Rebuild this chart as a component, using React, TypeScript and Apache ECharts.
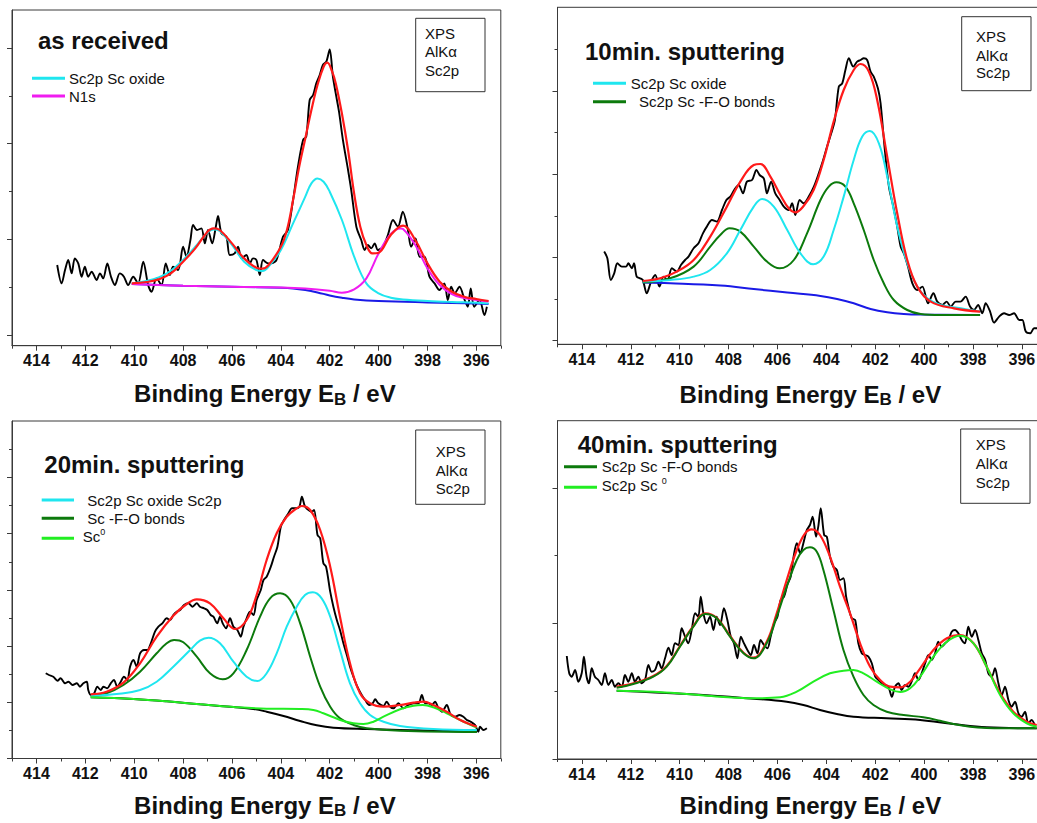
import React, { useEffect, useRef } from 'react';
import * as echarts from 'echarts';

const FONT = '"Liberation Sans", Arial, Helvetica, sans-serif';

// x axis (binding energy, eV)
const energyMajorTicks = [396, 398, 400, 402, 404, 406, 408, 410, 412, 414];
const energyMinorTicks = [395, 397, 399, 401, 403, 405, 407, 409, 411, 413, 415];

// y tick positions (arbitrary intensity units, no labels)
const asReceivedYMajor = [10.4, 106.2, 202, 297.8];
const asReceivedYMinor = [58.3, 154.1, 249.9];
const sp10YMajor = [3.6, 86.9, 170.2, 253.5];
const sp10YMinor = [45.25, 128.55, 211.85, 295.15];
const sp20YMajor = [0, 56.2, 112.4, 168.6, 224.8, 281];
const sp20YMinor = [28.1, 84.3, 140.5, 196.7, 252.9, 309.1];
const sp40YMajor = [0, 135.6, 271.2];
const sp40YMinor = [67.8, 203.4];

// ---------- as received ----------
const asReceivedRaw = [
  [413.15, 80.7], [412.97, 62.3], [412.83, 75.7], [412.7, 85.7], [412.56, 72.3], [412.43, 87.3], [412.29, 82.3],
  [412.15, 69], [412.02, 79], [411.88, 69], [411.74, 74], [411.54, 65.7], [411.4, 72.3], [411.27, 67.3],
  [411.1, 82.3], [410.95, 69], [410.79, 60.7], [410.59, 72.3], [410.42, 69], [410.25, 60.7], [410.04, 69],
  [409.84, 62.3], [409.63, 84], [409.43, 60.7], [409.29, 54], [409.09, 67.3], [408.88, 60.7], [408.71, 82.3],
  [408.54, 70.7], [408.41, 79], [408.2, 75.7], [408.0, 99], [407.86, 89], [407.7, 105.7], [407.59, 120.7],
  [407.43, 115.7], [407.25, 117.3], [407.11, 102.3], [406.98, 115.7], [406.81, 102.3], [406.66, 119],
  [406.57, 129.7], [406.43, 112.3], [406.23, 109], [406.09, 90.7], [405.89, 92.3], [405.75, 99], [405.61, 87.3],
  [405.41, 90.7], [405.27, 82.3], [405.14, 87.3], [405.0, 85.7], [404.86, 70.7], [404.73, 85.7], [404.52, 82.3],
  [404.39, 82.3], [404.18, 85.7], [403.91, 109], [403.71, 115.7], [403.5, 145.7], [403.3, 179], [403.09, 205.7],
  [402.96, 209], [402.82, 245.7], [402.68, 250.7], [402.55, 262.3], [402.41, 270.7], [402.28, 280.7],
  [402.14, 284], [402.0, 296.3], [401.87, 269], [401.73, 249], [401.62, 234], [401.46, 205.7], [401.25, 175.7],
  [401.12, 155.7], [400.91, 119], [400.71, 105.7], [400.57, 95.7], [400.44, 100.7], [400.3, 97.3],
  [400.16, 102.3], [400.03, 95.7], [399.82, 99], [399.62, 110.7], [399.41, 125.7], [399.21, 119], [399.01, 134],
  [398.8, 115.7], [398.67, 99], [398.49, 107.3], [398.32, 89], [398.12, 89], [397.92, 69], [397.71, 62.3],
  [397.51, 55.7], [397.31, 62.3], [397.17, 45.7], [397.03, 59], [396.89, 52.3], [396.69, 59], [396.48, 45.7],
  [396.35, 39], [396.23, 57.3], [396.09, 39], [395.87, 45.7], [395.67, 30.7], [395.57, 39],
];
const asReceivedFit = [
  [410.1, 62.3], [409.5, 63.7], [409, 66.3], [408.5, 72.3], [408, 84], [407.5, 97.3], [407, 114], [406.75, 117.3],
  [406.5, 115.7], [406, 102.3], [405.5, 87.3], [405, 78], [404.75, 77], [404.5, 80.7], [404, 99], [403.75, 115.7],
  [403.5, 145.7], [403.25, 179], [403, 207.3], [402.75, 235.7], [402.5, 260.7], [402.25, 279], [402.1, 283],
  [401.9, 274], [401.75, 262], [401.5, 232], [401.25, 195.7], [401, 152], [400.75, 119], [400.5, 100.7],
  [400.25, 92.3], [400, 93], [399.5, 110.7], [399, 120], [398.5, 105.7], [398, 82.3], [397.5, 64], [397, 54],
  [396.5, 49], [396, 46.7], [395.5, 44.7],
];
const asReceivedOxide = [
  [410.1, 62.3], [409.5, 64.7], [409, 68.3], [408.5, 75], [408, 85.7], [407.5, 99], [407, 113.3], [406.75, 116.3],
  [406.5, 114.7], [406, 100.7], [405.5, 84], [405, 75.7], [404.75, 74.7], [404.5, 79], [404, 95.7], [403.5, 122.3],
  [403, 149], [402.75, 162.3], [402.5, 167.3], [402.25, 164], [402, 154], [401.5, 125.7], [401, 89], [400.5, 62.3],
  [400, 52.3], [399.5, 48], [399, 46.3], [398, 44.7], [397, 43.7], [396, 43], [395.5, 42.3],
];
const asReceivedN1s = [
  [410.1, 61.7], [409, 60.7], [408, 60], [406, 59], [404, 58.3], [403, 57.3], [402, 55], [401.5, 53], [401, 56.3],
  [400.5, 67.3], [400, 92.3], [399.5, 111.7], [399.1, 117.3], [399, 116.7], [398.5, 100.7], [398, 77.3],
  [397.5, 60.7], [397, 51.7], [396.5, 47.7], [396, 45.7], [395.5, 44.3],
];
const asReceivedBackground = [
  [410.1, 61.7], [408, 60], [406, 59], [404, 58], [403.5, 57.3], [403, 55.7], [402.5, 53.3], [402, 50.3],
  [401.5, 48], [401, 46.3], [400, 44.7], [398, 43.3], [396, 42.3], [395.5, 41.7],
];

// ---------- 10 min sputtering ----------
const sp10Raw = [
  [413.09, 92.7], [412.96, 86], [412.82, 64.3], [412.68, 71], [412.55, 81], [412.37, 77.7], [412.19, 77.7],
  [412.1, 81], [411.96, 76], [411.87, 81], [411.76, 67.7], [411.62, 66], [411.51, 64.3], [411.35, 51],
  [411.17, 62.7], [411.0, 69.3], [410.83, 57.7], [410.66, 67.7], [410.5, 64.3], [410.32, 76], [410.12, 72.7],
  [409.95, 79.3], [409.78, 84.3], [409.64, 87.7], [409.43, 96], [409.23, 101], [409.05, 111], [408.89, 117.7],
  [408.68, 124.3], [408.48, 122.7], [408.27, 134.3], [408.09, 144.3], [407.93, 147.7], [407.77, 154.3],
  [407.59, 159.3], [407.41, 151], [407.25, 162.7], [407.04, 164.3], [406.86, 174.3], [406.73, 169.3],
  [406.56, 166], [406.43, 151], [406.26, 162.7], [406.09, 151], [405.91, 144.3], [405.74, 137.7],
  [405.54, 134.3], [405.4, 141], [405.27, 129.3], [405.09, 144.3], [404.93, 141], [404.72, 147.7],
  [404.51, 157.7], [404.31, 171], [404.13, 184.3], [403.97, 197.7], [403.8, 211], [403.65, 224.3],
  [403.49, 257.7], [403.35, 261], [403.22, 274.3], [403.08, 286], [402.9, 277.7], [402.74, 282.7],
  [402.6, 284.3], [402.47, 286], [402.33, 284.3], [402.19, 272.7], [402.06, 267.7], [401.89, 256],
  [401.78, 241], [401.62, 197.7], [401.44, 157.7], [401.26, 137.7], [401.1, 117.7], [400.96, 97.7],
  [400.83, 91], [400.66, 77.7], [400.48, 61], [400.28, 54.3], [400.07, 57.7], [399.84, 41], [399.62, 51],
  [399.46, 42.7], [399.25, 39.3], [399.08, 42.7], [398.91, 37.7], [398.71, 42.7], [398.51, 42.7], [398.3, 47.7],
  [398.12, 37.7], [397.96, 34.3], [397.79, 39.3], [397.62, 31], [397.48, 41], [397.3, 32.7], [397.14, 21.7],
  [396.93, 27.7], [396.73, 31], [396.52, 29.3], [396.32, 31], [396.11, 24.3], [395.98, 24.3], [395.84, 12.7],
  [395.66, 11], [395.5, 16], [395.36, 16],
];
const sp10Fit = [
  [411.51, 63.3], [410.8, 66], [410.12, 72.7], [409.43, 84.3], [408.75, 107.7], [408.07, 137.7], [407.52, 162.7],
  [406.97, 179.3], [406.7, 180.3], [406.29, 167.7], [405.88, 149.3], [405.54, 136], [405.27, 132],
  [404.93, 138.3], [404.52, 154.3], [404.11, 184.3], [403.7, 222.7], [403.29, 254.3], [402.88, 274.3],
  [402.6, 280.3], [402.26, 272.7], [401.92, 244.3], [401.51, 187.7], [401.1, 131], [400.69, 84.3],
  [400.28, 57.7], [399.73, 42.7], [398.78, 36], [397.71, 32.7],
];
const sp10Oxide = [
  [411.51, 62.7], [410.39, 64.3], [409.43, 67.7], [408.75, 74.3], [408.07, 91], [407.52, 114.3], [406.97, 137.7],
  [406.63, 145.3], [406.15, 137.7], [405.6, 114.3], [405.06, 91], [404.54, 80], [404.11, 87.7], [403.7, 114.3],
  [403.29, 147.7], [402.88, 184.3], [402.53, 207.7], [402.22, 213.3], [401.85, 201], [401.51, 167.7],
  [401.1, 117.7], [400.69, 81], [400.28, 57.7], [399.87, 46], [399.32, 39.3], [398.5, 36], [397.71, 32.7],
];
const sp10FO = [
  [411.51, 61.7], [410.39, 66], [409.43, 77.7], [408.75, 97.7], [408.34, 109.3], [407.96, 116], [407.52, 112.7],
  [406.97, 97.7], [406.43, 82.7], [405.91, 76], [405.33, 84.3], [404.79, 111], [404.24, 144.3], [403.9, 157.7],
  [403.59, 162], [403.22, 157.7], [402.88, 141], [402.47, 114.3], [402.06, 84.3], [401.65, 61], [401.24, 44.3],
  [400.69, 34.3], [400.14, 30.3], [399.32, 29.3], [397.71, 29.3],
];
const sp10Background = [
  [411.51, 61.7], [410.39, 61], [408.34, 58.7], [406.97, 55.3], [405.6, 51.7], [404.24, 48.3], [403.56, 45.3],
  [402.88, 41], [402.19, 35.3], [401.51, 32], [400.83, 30.3], [400.14, 29.7], [397.71, 29.3],
];

// ---------- 20 min sputtering ----------
const sp20Raw = [
  [413.62, 85.2], [413.49, 83.5], [413.31, 81.8], [413.14, 77.8], [413.01, 80.2], [412.83, 75.2], [412.69, 76.8],
  [412.52, 73.5], [412.35, 75.2], [412.22, 71.8], [412.08, 75.2], [411.94, 76.8], [411.88, 68.5], [411.78, 63.5],
  [411.64, 65.2], [411.51, 71.8], [411.37, 68.5], [411.26, 71.8], [411.1, 70.2], [410.96, 75.2], [410.83, 78.5],
  [410.69, 71.8], [410.55, 76.8], [410.42, 81.8], [410.28, 78.5], [410.17, 91.8], [410.03, 98.5], [409.9, 91.8],
  [409.76, 105.2], [409.6, 108.5], [409.46, 108.5], [409.32, 115.2], [409.15, 126.8], [409.01, 131.8],
  [408.85, 135.2], [408.67, 140.2], [408.53, 138.5], [408.4, 143.5], [408.26, 146.8], [408.12, 148.5],
  [407.96, 153.5], [407.78, 155.2], [407.61, 151.8], [407.44, 155.2], [407.31, 151.8], [407.14, 150.2],
  [407.01, 148.5], [406.87, 143.5], [406.76, 141.8], [406.6, 135.2], [406.49, 141.8], [406.38, 135.2],
  [406.24, 130.2], [406.08, 140.2], [405.94, 131.8], [405.78, 128.5], [405.64, 121.8], [405.53, 131.8],
  [405.4, 140.2], [405.26, 146.8], [405.12, 143.5], [404.99, 158.5], [404.82, 168.5], [404.71, 178.5],
  [404.58, 181.8], [404.41, 191.8], [404.28, 201.8], [404.14, 211.8], [404.0, 231.8], [403.87, 238.5],
  [403.69, 245.2], [403.55, 250.2], [403.38, 250.2], [403.24, 251.8], [403.14, 261.8], [403.01, 251.8],
  [402.87, 248.5], [402.74, 246.8], [402.64, 248.5], [402.5, 223.5], [402.39, 220.2], [402.26, 195.2],
  [402.15, 191.8], [401.98, 166.8], [401.85, 151.8], [401.71, 138.5], [401.58, 128.5], [401.44, 115.2],
  [401.28, 101.8], [401.17, 91.8], [401.03, 81.8], [400.87, 71.8], [400.69, 63.5], [400.55, 58.5],
  [400.38, 53.5], [400.24, 55.2], [400.14, 59.2], [400.01, 55.2], [399.8, 52.5], [399.67, 56.8], [399.53, 51.8],
  [399.39, 50.2], [399.19, 55.2], [398.98, 50.2], [398.78, 53.5], [398.57, 55.2], [398.37, 55.2], [398.23, 63.5],
  [398.1, 55.2], [397.96, 55.2], [397.82, 53.5], [397.69, 56.8], [397.55, 50.2], [397.41, 46.8], [397.21, 53.5],
  [397.05, 43.5], [396.87, 41.8], [396.69, 43.5], [396.53, 41.8], [396.39, 38.5], [396.23, 36.8], [396.05, 33.5],
  [395.92, 26.8], [395.85, 31.8], [395.71, 28.5], [395.57, 30.2],
];
const sp20Fit = [
  [411.78, 64.2], [411.13, 66.8], [410.44, 75.8], [409.76, 95.2], [409.08, 121.8], [408.4, 142.8],
  [407.85, 154.5], [407.44, 159.2], [406.9, 155.2], [406.35, 140.2], [405.87, 129.5], [405.4, 138.5],
  [404.99, 163.5], [404.58, 198.5], [404.17, 225.2], [403.76, 241.8], [403.35, 250.2], [403.14, 252.5],
  [402.8, 248.5], [402.39, 228.5], [401.98, 191.8], [401.58, 141.8], [401.17, 95.2], [400.76, 65.2],
  [400.35, 55.2], [399.8, 51.8], [399.12, 53.5], [398.57, 55.8], [398.17, 56.8], [397.76, 53.5], [397.21, 46.8],
  [396.66, 38.5], [395.98, 31.8],
];
const sp20Oxide = [
  [411.78, 62.5], [410.72, 64.5], [409.76, 68.5], [409.08, 76.8], [408.4, 91.8], [407.71, 108.5], [407.31, 117.8],
  [406.96, 120.8], [406.49, 115.2], [405.94, 96.8], [405.4, 81.8], [404.96, 77.5], [404.58, 85.2],
  [404.17, 105.2], [403.76, 131.8], [403.35, 151.8], [403.01, 163.5], [402.69, 166.2], [402.33, 160.2],
  [401.98, 141.8], [401.58, 108.5], [401.17, 75.2], [400.76, 55.2], [400.35, 43.5], [399.8, 36.8],
  [399.12, 32.5], [397.76, 29.5], [395.98, 28.5],
];
const sp20FO = [
  [411.78, 62.5], [411.13, 65.2], [410.44, 73.5], [409.76, 86.8], [409.08, 105.2], [408.67, 115.2],
  [408.37, 118.5], [407.99, 116.2], [407.44, 101.8], [406.9, 85.2], [406.38, 79.2], [405.94, 85.2],
  [405.4, 108.5], [404.85, 141.8], [404.44, 160.2], [404.03, 165.2], [403.62, 158.5], [403.21, 135.2],
  [402.8, 101.8], [402.39, 71.8], [401.98, 51.8], [401.58, 40.2], [401.03, 33.5], [400.48, 30.2],
  [399.12, 27.8], [395.98, 26.5],
];
const sp20Sc0 = [
  [411.78, 61.2], [410.03, 59.5], [408.67, 57.2], [407.31, 54.2], [405.94, 51.5], [404.58, 49.8], [403.21, 49.5],
  [402.67, 48.5], [402.26, 45.2], [401.85, 41.2], [401.44, 37.5], [401.03, 35.2], [400.62, 34.5], [400.21, 36.8],
  [399.8, 41.8], [399.12, 49.2], [398.57, 52.8], [398.19, 53.5], [397.76, 51.2], [397.21, 45.2], [396.66, 38.5],
  [395.98, 30.8],
];
const sp20Background = [
  [411.78, 61.2], [410.03, 59.5], [408.67, 57.2], [407.31, 54.2], [405.94, 51.5], [405.12, 49.5], [404.58, 46.8],
  [403.89, 42.5], [403.21, 37.5], [402.53, 33.2], [401.85, 30.8], [400.48, 29.5], [397.76, 27.8], [395.98, 26.8],
];

// ---------- 40 min sputtering ----------
const sp40Raw = [
  [414.62, 103], [414.52, 85.7], [414.42, 82.3], [414.28, 89], [414.15, 77.3], [414.01, 85.7], [413.92, 102.3],
  [413.81, 82.3], [413.71, 75.7], [413.6, 90.7], [413.47, 82.3], [413.33, 79], [413.19, 74], [413.06, 85.7],
  [412.92, 74], [412.78, 79], [412.65, 72.3], [412.51, 75.7], [412.37, 72.3], [412.24, 84], [412.1, 77.3],
  [411.96, 85.7], [411.83, 77.3], [411.69, 82.3], [411.56, 75.7], [411.42, 79], [411.28, 94], [411.15, 87.3],
  [411.01, 89], [410.87, 97.3], [410.74, 90.7], [410.6, 100.7], [410.46, 111.3], [410.33, 104], [410.19, 115.7],
  [410.05, 114], [409.92, 130.7], [409.78, 122.3], [409.65, 115.7], [409.51, 129], [409.37, 145.7],
  [409.24, 142.3], [409.14, 162.3], [409.03, 145.7], [408.9, 135.7], [408.76, 142.3], [408.62, 129],
  [408.49, 142.3], [408.35, 134], [408.19, 150.7], [408.05, 139], [407.91, 122.3], [407.78, 115.7],
  [407.64, 100.7], [407.5, 122.3], [407.37, 115.7], [407.23, 109], [407.09, 104], [406.96, 114], [406.82, 105.7],
  [406.69, 119], [406.55, 114], [406.41, 110.7], [406.28, 122.3], [406.14, 135.7], [406.0, 142.3], [405.87, 159],
  [405.73, 162.3], [405.6, 174], [405.46, 182.3], [405.35, 200.7], [405.21, 215.7], [405.07, 205.7],
  [404.94, 215.7], [404.8, 229], [404.67, 234], [404.56, 242.3], [404.42, 222.3], [404.33, 232.3],
  [404.23, 250.7], [404.09, 224], [403.98, 222.3], [403.85, 202.3], [403.71, 192.3], [403.57, 189],
  [403.44, 179], [403.3, 180.7], [403.19, 162.3], [403.1, 152.3], [402.96, 140.7], [402.82, 139], [402.69, 115.7],
  [402.55, 105.7], [402.41, 104], [402.28, 102.3], [402.14, 95.7], [402.0, 82.3], [401.87, 79], [401.73, 75.7],
  [401.6, 74], [401.46, 72.3], [401.32, 62.3], [401.19, 72.3], [401.05, 75.7], [400.92, 69], [400.78, 74],
  [400.64, 72.3], [400.51, 77.3], [400.37, 85.7], [400.23, 79], [400.1, 85.7], [399.96, 95.7], [399.82, 104],
  [399.69, 99], [399.55, 105.7], [399.42, 117.3], [399.28, 112.3], [399.14, 115.7], [399.0, 119], [398.87, 127.3],
  [398.73, 129], [398.6, 125.7], [398.46, 119], [398.33, 115.7], [398.19, 132.3], [398.05, 122.3], [397.91, 129],
  [397.78, 119], [397.64, 105.7], [397.5, 99], [397.37, 85.7], [397.23, 82.3], [397.1, 90.7], [396.96, 75.7],
  [396.82, 64], [396.69, 72.3], [396.55, 59], [396.42, 52.3], [396.28, 57.3], [396.14, 45.7], [396.01, 42.3],
  [395.87, 47.3], [395.74, 35.7], [395.6, 39], [395.46, 33],
];
const sp40Fit = [
  [412.58, 72.3], [411.9, 75.7], [411.08, 83], [410.53, 93], [409.99, 113], [409.44, 133], [408.96, 145.7],
  [408.49, 141.3], [407.94, 123], [407.39, 106.3], [406.98, 101.3], [406.44, 117.3], [406.03, 145.7],
  [405.62, 179], [405.21, 209], [404.87, 225.7], [404.6, 229.7], [404.26, 224], [403.85, 202.3], [403.44, 172.3],
  [403.03, 145.7], [402.62, 115.7], [402.21, 92.3], [401.8, 79], [401.39, 72.3], [400.98, 71.7], [400.57, 77.3],
  [400.16, 90.7], [399.62, 109], [399.07, 120.7], [398.53, 124], [397.98, 115.7], [397.44, 92.3], [396.89, 65.7],
  [396.35, 47.3], [395.8, 37.3], [395.39, 34],
];
const sp40FO = [
  [412.58, 71.3], [411.9, 75], [411.08, 82.3], [410.53, 92.3], [409.99, 112.3], [409.44, 132.3], [408.96, 145],
  [408.49, 140.7], [407.94, 122.3], [407.39, 105.7], [406.98, 100.7], [406.44, 115.7], [406.03, 142.3],
  [405.62, 172.3], [405.21, 199], [404.94, 209], [404.67, 211.7], [404.39, 207.3], [404.12, 189], [403.71, 149],
  [403.3, 109], [402.89, 82.3], [402.48, 64], [402.07, 54], [401.53, 47.3], [400.84, 44], [400.03, 41.7],
  [399.35, 38.3], [398.8, 35], [398.12, 32.3], [397.44, 31], [396.75, 30.7], [395.39, 30.7],
];
const sp40Sc0 = [
  [412.58, 68.3], [411.08, 67.3], [409.71, 65], [408.35, 62.3], [406.98, 60.7], [405.89, 61.7], [405.21, 67.3],
  [404.53, 77.3], [403.85, 85.7], [403.3, 88.3], [402.89, 89], [402.48, 85.7], [401.94, 77.3], [401.39, 69.7],
  [400.98, 67], [400.57, 70.7], [400.16, 82.3], [399.62, 102.3], [399.07, 117.3], [398.53, 123.3],
  [397.98, 115.7], [397.44, 92.3], [396.89, 64], [396.35, 45.7], [395.8, 35.7], [395.39, 32.3],
];
const sp40Background = [
  [412.58, 68.3], [409.71, 65], [406.98, 60.3], [405.62, 57.3], [404.94, 54], [404.26, 49], [403.57, 45],
  [402.89, 42.3], [401.53, 40.7], [400.16, 39], [398.8, 35], [397.44, 31.7], [395.39, 30.7],
];

const C = {
  raw: '#000000',
  fit: '#ff1a1a',
  oxide: '#1fe6ef',
  n1s: '#f01cf0',
  bg: '#1a1ae6',
  fo: '#0c7a0c',
  sc0: '#22ee22',
  bgBlack: '#000000',
};

type S = { name: string; data: number[][]; color: string; width: number; smooth: number };

const panels: {
  box: { left: number; top: number; width: number; height: number };
  yMajor: number[];
  yMinor: number[];
  nameGap: number;
  series: S[];
}[] = [
  {
    box: { left: 12, top: 10, width: 488.8, height: 335.7 },
    yMajor: asReceivedYMajor, yMinor: asReceivedYMinor, nameGap: 34,
    series: [
      { name: 'as received', data: asReceivedRaw, color: C.raw, width: 1.9, smooth: 0.3 },
      { name: 'Background', data: asReceivedBackground, color: C.bg, width: 2, smooth: 0.4 },
      { name: 'Sc2p Sc oxide', data: asReceivedOxide, color: C.oxide, width: 2, smooth: 0.4 },
      { name: 'N1s', data: asReceivedN1s, color: C.n1s, width: 2, smooth: 0.4 },
      { name: 'Fit', data: asReceivedFit, color: C.fit, width: 2.2, smooth: 0.4 },
    ],
  },
  {
    box: { left: 557.5, top: 7.3, width: 488.8, height: 337 },
    yMajor: sp10YMajor, yMinor: sp10YMinor, nameGap: 36,
    series: [
      { name: '10min. sputtering', data: sp10Raw, color: C.raw, width: 1.9, smooth: 0.3 },
      { name: 'Background ', data: sp10Background, color: C.bg, width: 2, smooth: 0.4 },
      { name: 'Sc2p Sc -F-O bonds', data: sp10FO, color: C.fo, width: 2, smooth: 0.4 },
      { name: 'Sc2p Sc oxide ', data: sp10Oxide, color: C.oxide, width: 2, smooth: 0.4 },
      { name: 'Fit ', data: sp10Fit, color: C.fit, width: 2.2, smooth: 0.4 },
    ],
  },
  {
    box: { left: 12, top: 421, width: 488.8, height: 337.5 },
    yMajor: sp20YMajor, yMinor: sp20YMinor, nameGap: 32.5,
    series: [
      { name: '20min. sputtering', data: sp20Raw, color: C.raw, width: 1.9, smooth: 0.3 },
      { name: 'Background  ', data: sp20Background, color: C.bgBlack, width: 2, smooth: 0.4 },
      { name: 'Sc -F-O bonds', data: sp20FO, color: C.fo, width: 2, smooth: 0.4 },
      { name: 'Sc2p Sc oxide Sc2p', data: sp20Oxide, color: C.oxide, width: 2, smooth: 0.4 },
      { name: 'Sc0', data: sp20Sc0, color: C.sc0, width: 2, smooth: 0.4 },
      { name: 'Fit  ', data: sp20Fit, color: C.fit, width: 2.2, smooth: 0.4 },
    ],
  },
  {
    box: { left: 557.5, top: 420.7, width: 488.8, height: 338.3 },
    yMajor: sp40YMajor, yMinor: sp40YMinor, nameGap: 32,
    series: [
      { name: '40min. sputtering', data: sp40Raw, color: C.raw, width: 1.9, smooth: 0.3 },
      { name: 'Background   ', data: sp40Background, color: C.bgBlack, width: 2, smooth: 0.4 },
      { name: 'Fit   ', data: sp40Fit, color: C.fit, width: 2.2, smooth: 0.4 },
      { name: 'Sc2p Sc -F-O bonds ', data: sp40FO, color: C.fo, width: 2, smooth: 0.4 },
      { name: 'Sc2p Sc 0', data: sp40Sc0, color: C.sc0, width: 2, smooth: 0.4 },
    ],
  },
];

const AXIS_COLOR = '#3a3a3a';

function txt(x: number, y: number, text: string, fontSize: number, bold = false, rich?: any) {
  return {
    type: 'text',
    x,
    y,
    silent: true,
    style: {
      text,
      fill: '#111',
      fontSize,
      fontFamily: FONT,
      fontWeight: bold ? 'bold' : 'normal',
      align: 'left',
      verticalAlign: 'middle',
      textAlign: 'left',
      textVerticalAlign: 'middle',
      rich,
    },
  };
}
function legLine(x1: number, x2: number, y: number, color: string) {
  return { type: 'line', silent: true, shape: { x1, y1: y, x2, y2: y }, style: { stroke: color, lineWidth: 3 } };
}
function infoBox(x: number, y: number, w: number, h: number, tx: number, ys: number[]) {
  return [
    { type: 'rect', silent: true, shape: { x, y, width: w, height: h }, style: { fill: 'transparent', stroke: '#333', lineWidth: 1 } },
    txt(tx, ys[0], 'XPS', 15),
    txt(tx, ys[1], 'AlKα', 15),
    txt(tx, ys[2], 'Sc2p', 15),
  ];
}

const supRich = {
  a: { fontSize: 15, fontFamily: FONT, fill: '#111', color: '#111', lineHeight: 18 },
  b: { fontSize: 9, fontFamily: FONT, fill: '#111', color: '#111', lineHeight: 9, verticalAlign: 'top' },
};

export default function App() {
  const ref = useRef<HTMLDivElement>(null);
  useEffect(() => {
    if (!ref.current) return;
    const chart = echarts.init(ref.current, null, { renderer: 'svg' });
    const grid: any[] = [];
    const xAxis: any[] = [];
    const yAxis: any[] = [];
    const series: any[] = [];
    panels.forEach((p, i) => {
      grid.push({
        left: p.box.left, top: p.box.top, width: p.box.width, height: p.box.height,
        show: true, borderColor: AXIS_COLOR, borderWidth: 1, backgroundColor: 'transparent',
        containLabel: false, outerBoundsMode: 'none',
      });
      xAxis.push({
        type: 'value', gridIndex: i, position: 'bottom', min: 395, max: 415, inverse: true,
        axisLine: { show: true, onZero: false, lineStyle: { color: AXIS_COLOR, width: 1 } },
        axisTick: { show: true, length: 5, customValues: energyMajorTicks, lineStyle: { color: AXIS_COLOR } },
        axisLabel: {
          show: true, customValues: energyMajorTicks, margin: 7, fontSize: 16, fontWeight: 'bold',
          fontFamily: FONT, color: '#111',
        },
        splitLine: { show: false },
        name: '{n|Binding Energy E}{s|B}{n| / eV}',
        nameLocation: 'middle',
        nameGap: p.nameGap,
        nameTextStyle: {
          padding: [0, 0, 0, 17],
          rich: {
            n: { fontSize: 24, fontWeight: 'bold', fontFamily: FONT, color: '#111', lineHeight: 28 },
            s: { fontSize: 17, fontWeight: 'bold', fontFamily: FONT, color: '#111', lineHeight: 15, verticalAlign: 'bottom' },
          },
        },
      });
      xAxis.push({
        type: 'value', gridIndex: i, position: 'bottom', min: 395, max: 415, inverse: true,
        axisLine: { show: false, onZero: false },
        axisTick: { show: true, length: 3, customValues: energyMinorTicks, lineStyle: { color: AXIS_COLOR } },
        axisLabel: { show: false },
        splitLine: { show: false },
      });
      const yMax = p.box.height;
      yAxis.push({
        type: 'value', gridIndex: i, position: 'left', min: 0, max: yMax,
        axisLine: { show: true, onZero: false, lineStyle: { color: AXIS_COLOR, width: 1 } },
        axisTick: { show: true, length: 5, customValues: p.yMajor, lineStyle: { color: AXIS_COLOR } },
        axisLabel: { show: false },
        splitLine: { show: false },
      });
      yAxis.push({
        type: 'value', gridIndex: i, position: 'left', min: 0, max: yMax,
        axisLine: { show: false, onZero: false },
        axisTick: { show: true, length: 3, customValues: p.yMinor, lineStyle: { color: AXIS_COLOR } },
        axisLabel: { show: false },
        splitLine: { show: false },
      });
      p.series.forEach((s) => {
        series.push({
          type: 'line', name: s.name, xAxisIndex: i * 2, yAxisIndex: i * 2, data: s.data,
          showSymbol: false, symbol: 'none', smooth: s.smooth, clip: true,
          lineStyle: { color: s.color, width: s.width }, itemStyle: { color: s.color },
          emphasis: { disabled: true },
        });
      });
    });

    const graphic: any[] = [
      // panel 1
      txt(38, 40, 'as received', 24, true),
      legLine(32, 65, 78.3, C.oxide), txt(69, 78.3, 'Sc2p Sc oxide', 15),
      legLine(32, 65, 96, C.n1s), txt(69, 96, 'N1s', 15),
      ...infoBox(415.7, 18.3, 69.3, 73.4, 425, [33.5, 51.8, 70]),
      // panel 2
      txt(585, 51, '10min. sputtering', 24, true),
      legLine(593, 626, 83.3, C.oxide), txt(630.7, 83.3, 'Sc2p Sc oxide', 15),
      legLine(593, 626, 101.7, C.fo), txt(639, 101.7, 'Sc2p Sc -F-O bonds', 15),
      ...infoBox(961.7, 16.7, 69.3, 74, 976, [36.7, 55, 72.7]),
      // panel 3
      txt(44.3, 464, '20min. sputtering', 24, true),
      legLine(41.7, 74, 500, C.oxide), txt(87.3, 500, 'Sc2p Sc oxide Sc2p', 15),
      legLine(41.7, 74, 518.3, C.fo), txt(87.3, 518.3, 'Sc -F-O bonds', 15),
      legLine(41.7, 74, 538.3, C.sc0), txt(82.7, 536.5, '{a|Sc}{b|0}', 15, false, supRich),
      ...infoBox(415.7, 430, 69.3, 74.3, 435.7, [451.7, 470, 488.3]),
      // panel 4
      txt(577.7, 444, '40min. sputtering', 24, true),
      legLine(564, 597, 466.7, C.fo), txt(601.7, 466.7, 'Sc2p Sc -F-O bonds', 15),
      legLine(564, 597, 487.3, C.sc0), txt(601.7, 485.5, '{a|Sc2p Sc }{b|0}', 15, false, supRich),
      ...infoBox(960.7, 429, 69.3, 74.3, 975.7, [444.3, 463.3, 482.3]),
    ];

    chart.setOption({
      animation: false,
      backgroundColor: '#ffffff',
      grid,
      xAxis,
      yAxis,
      series,
      graphic,
    });
    return () => chart.dispose();
  }, []);
  return (
    <div
      ref={ref}
      style={{ position: 'fixed', left: 0, top: 0, width: 1037, height: 823, background: '#fff' }}
    />
  );
}
